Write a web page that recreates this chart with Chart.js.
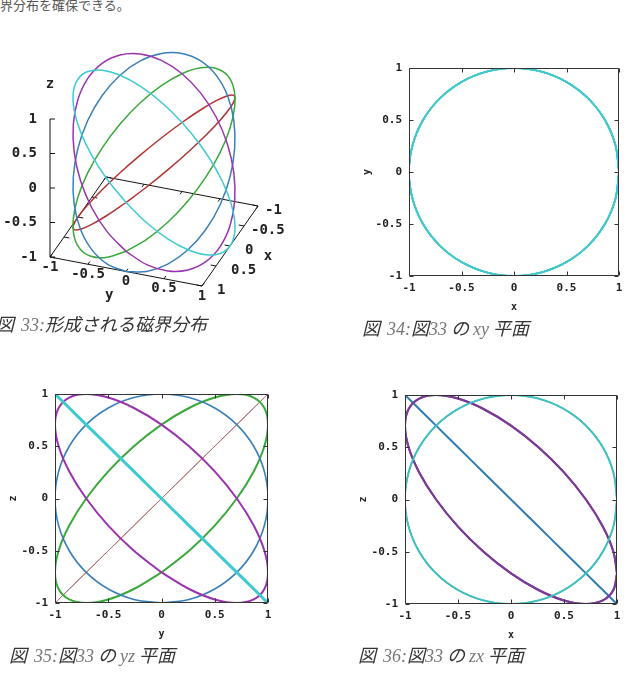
<!DOCTYPE html>
<html><head><meta charset="utf-8">
<script src="https://cdn.jsdelivr.net/npm/chart.js@4.4.1/dist/chart.umd.min.js"></script>
<style>
html,body{margin:0;padding:0;background:#fff;width:632px;height:690px;overflow:hidden;position:relative}
canvas{position:absolute}
.txt{position:absolute;white-space:nowrap;font-family:"Noto Sans CJK JP",sans-serif;color:#333}
.cap{font-size:18px;font-style:italic;line-height:20px;color:#333}
.num{font-family:"Liberation Serif",serif;color:#777;font-style:italic}
.gap{margin-left:7px}
</style></head><body>
<div class="txt" style="left:0;top:-2px;font-size:13px;line-height:13px;color:#555">界分布を確保できる。</div>
<canvas id="c3d" width="300" height="280" style="left:0;top:40px"></canvas>
<canvas id="cxy" width="277" height="266" style="left:355px;top:54px"></canvas>
<canvas id="cyz" width="280" height="267" style="left:1px;top:380px"></canvas>
<canvas id="czx" width="279" height="267" style="left:351px;top:381px"></canvas>
<div class="txt cap" style="left:-4px;top:313px">図<span class="num gap">33:</span>形成される磁界分布</div>
<div class="txt cap" style="left:362px;top:317px">図<span class="num gap">34:</span>図<span class="num">33</span> の <span class="num">xy</span> 平面</div>
<div class="txt cap" style="left:9px;top:644px">図<span class="num gap">35:</span>図<span class="num">33</span> の <span class="num">yz</span> 平面</div>
<div class="txt cap" style="left:358px;top:644px">図<span class="num gap">36:</span>図<span class="num">33</span> の <span class="num">zx</span> 平面</div>
<script>
const circleX = [1, 0.966, 0.866, 0.707, 0.5, 0.259, 0, -0.259, -0.5, -0.707, -0.866, -0.966, -1, -0.966, -0.866, -0.707, -0.5, -0.259, 0, 0.259, 0.5, 0.707, 0.866, 0.966];
const circleY = [0, 0.259, 0.5, 0.707, 0.866, 0.966, 1, 0.966, 0.866, 0.707, 0.5, 0.259, 0, -0.259, -0.5, -0.707, -0.866, -0.966, -1, -0.966, -0.866, -0.707, -0.5, -0.259];
const zBrown  = [0, 0.259, 0.5, 0.707, 0.866, 0.966, 1, 0.966, 0.866, 0.707, 0.5, 0.259, 0, -0.259, -0.5, -0.707, -0.866, -0.966, -1, -0.966, -0.866, -0.707, -0.5, -0.259];
const zGreen  = [-0.707, -0.5, -0.259, 0, 0.259, 0.5, 0.707, 0.866, 0.966, 1, 0.966, 0.866, 0.707, 0.5, 0.259, 0, -0.259, -0.5, -0.707, -0.866, -0.966, -1, -0.966, -0.866];
const zBlue   = [-1, -0.966, -0.866, -0.707, -0.5, -0.259, 0, 0.259, 0.5, 0.707, 0.866, 0.966, 1, 0.966, 0.866, 0.707, 0.5, 0.259, 0, -0.259, -0.5, -0.707, -0.866, -0.966];
const zPurple = [-0.707, -0.866, -0.966, -1, -0.966, -0.866, -0.707, -0.5, -0.259, 0, 0.259, 0.5, 0.707, 0.866, 0.966, 1, 0.966, 0.866, 0.707, 0.5, 0.259, 0, -0.259, -0.5];
const zCyan   = [0, -0.259, -0.5, -0.707, -0.866, -0.966, -1, -0.966, -0.866, -0.707, -0.5, -0.259, 0, 0.259, 0.5, 0.707, 0.866, 0.966, 1, 0.966, 0.866, 0.707, 0.5, 0.259];
const tickValues = [-1, -0.5, 0, 0.5, 1];
const tickLabels = ['-1', '-0.5', '0', '0.5', '1'];

// ---- styles ----
const curves = [
  {z: zCyan,   color: '#3ecad0', order: 0},
  {z: zPurple, color: '#9a32b0', order: 1},
  {z: zBlue,   color: '#3a7fb8', order: 2},
  {z: zGreen,  color: '#3aa83a', order: 3},
  {z: zBrown,  color: '#b03434', order: 4}
];
const MONO = '"DejaVu Sans Mono", "Liberation Mono", monospace';
const INK = '#222';
Chart.defaults.font.family = MONO;

function closed(a) { return a.concat([a[0]]); }

// ---- 3D panel ----
const view = {ox: 154, oy: 122.5, ex: [-28, 40], ey: [76, 14.5], ez: [0, -69]};
function project(x, y, z) {
  return {x: view.ox + view.ex[0]*x + view.ey[0]*y + view.ez[0]*z,
          y: view.oy + view.ex[1]*x + view.ey[1]*y + view.ez[1]*z};
}
const boxCorners = [[1,-1,-1],[1,1,-1],[-1,1,-1],[-1,-1,-1],[1,-1,-1]];
const zAxisEnds = [[1,-1,-1],[1,-1,1]];

const ds3d = curves.map(c => ({
  data: closed(circleX.map((x, i) => project(x, circleY[i], c.z[i]))),
  borderColor: c.color, borderWidth: 1.5, tension: 0.34, order: c.order,
  pointRadius: 0, showLine: true, fill: false, clip: false
}));
ds3d.push({data: boxCorners.map(p => project(...p)), borderColor: '#111', borderWidth: 1, tension: 0, order: 10, pointRadius: 0, showLine: true, clip: false});
ds3d.push({data: zAxisEnds.map(p => project(...p)), borderColor: '#111', borderWidth: 1, tension: 0, order: 11, pointRadius: 0, showLine: true, clip: false});

const axes3d = {
  id: 'axes3d',
  beforeDatasetsDraw(chart) {
    const {ctx, scales: {x: sx, y: sy}} = chart;
    const P = (x, y, z) => { const p = project(x, y, z); return [sx.getPixelForValue(p.x), sy.getPixelForValue(p.y)]; };
    ctx.save(); ctx.strokeStyle = '#111'; ctx.lineWidth = 1; ctx.beginPath();
    const L = 0.07;
    tickValues.forEach(v => {
      let a = P(1, -1, v); ctx.moveTo(a[0], a[1]); ctx.lineTo(a[0] + 5, a[1]);
      a = P(1, v, -1); let b = P(1 - L, v, -1); ctx.moveTo(a[0], a[1]); ctx.lineTo(b[0], b[1]);
      a = P(-1, v, -1); b = P(-1 + L, v, -1); ctx.moveTo(a[0], a[1]); ctx.lineTo(b[0], b[1]);
      a = P(v, 1, -1); b = P(v, 1 - L, -1); ctx.moveTo(a[0], a[1]); ctx.lineTo(b[0], b[1]);
      a = P(v, -1, -1); b = P(v, -1 + L, -1); ctx.moveTo(a[0], a[1]); ctx.lineTo(b[0], b[1]);
    });
    ctx.stroke(); ctx.restore();
  },
  afterDraw(chart) {
    const {ctx, scales: {x: sx, y: sy}} = chart;
    const P = (x, y, z) => { const p = project(x, y, z); return [sx.getPixelForValue(p.x), sy.getPixelForValue(p.y)]; };
    ctx.save(); ctx.fillStyle = INK; ctx.font = 'bold 14px ' + MONO; ctx.textBaseline = 'middle';
    tickValues.forEach((v, i) => {
      const lab = tickLabels[i];
      let a = P(1, -1, v); ctx.textAlign = 'right'; ctx.fillText(lab, a[0] - 13, a[1]);
      a = P(1, v, -1); ctx.textAlign = 'center'; ctx.fillText(lab, a[0], a[1] + 10);
      a = P(v, 1, -1); ctx.textAlign = 'left'; ctx.fillText(lab, a[0] + (lab[0] === '-' ? 7 : 15), a[1] + 4);
    });
    ctx.textAlign = 'center';
    let a = P(1, -1, 1.5); ctx.fillText('z', a[0], a[1]);
    a = P(1.6, 0, -1); ctx.fillText('y', a[0], a[1]);
    a = P(0, 1.5, -1); ctx.fillText('x', a[0], a[1] + 3);
    ctx.restore();
  }
};

new Chart(document.getElementById('c3d'), {
  type: 'scatter',
  data: {datasets: ds3d},
  options: {
    responsive: false, animation: false, devicePixelRatio: 1, events: [],
    layout: {padding: 0, autoPadding: false},
    plugins: {legend: {display: false}, tooltip: {enabled: false}},
    scales: {
      x: {type: 'linear', min: 0, max: 300, display: false},
      y: {type: 'linear', min: 0, max: 280, reverse: true, display: false}
    }
  },
  plugins: [axes3d]
});

// ---- 2D panels ----
const frame = {
  id: 'frame',
  afterDatasetsDraw(chart) {
    const {ctx, chartArea: a, scales: {x, y}} = chart;
    ctx.save(); ctx.strokeStyle = '#333'; ctx.lineWidth = 1; ctx.beginPath();
    const l = Math.round(a.left) + 0.5, r = Math.round(a.right) - 0.5, t = Math.round(a.top) + 0.5, b = Math.round(a.bottom) - 0.5;
    ctx.rect(l, t, r - l, b - t);
    tickValues.forEach(v => {
      const px = Math.round(x.getPixelForValue(v)) + 0.5;
      ctx.moveTo(px, b); ctx.lineTo(px, b - 4); ctx.moveTo(px, t); ctx.lineTo(px, t + 4);
      const py = Math.round(y.getPixelForValue(v)) + 0.5;
      ctx.moveTo(l, py); ctx.lineTo(l + 4, py); ctx.moveTo(r, py); ctx.lineTo(r - 4, py);
    });
    ctx.stroke(); ctx.restore();
  }
};

function axis(title, isX) {
  return {
    type: 'linear', min: -1, max: 1,
    grid: {display: false, drawTicks: false}, border: {display: false},
    afterBuildTicks: s => { s.ticks = tickValues.map(v => ({value: v})); },
    afterFit: s => { if (isX) s.height = 44; else s.width = 54; },
    ticks: {color: INK, font: {size: 11, weight: 'bold', family: MONO}, padding: isX ? 6 : 7,
            callback: (v) => tickLabels[tickValues.indexOf(v)]},
    title: {display: true, text: title, color: INK, font: {size: 10, weight: 'bold', family: MONO},
            padding: isX ? {top: 0, bottom: 7} : {top: 6, bottom: 0}}
  };
}

function panel(id, xArr, yFn, xTitle, yTitle, widths, colors) {
  const datasets = curves.map((c, k) => ({
    data: closed(xArr.map((v, i) => ({x: v, y: yFn(c)[i]}))),
    borderColor: (colors && colors[k]) || c.color, borderWidth: widths[k], tension: 0.34,
    order: c.order, pointRadius: 0, showLine: true, fill: false
  }));
  new Chart(document.getElementById(id), {
    type: 'scatter',
    data: {datasets},
    options: {
      responsive: false, animation: false, devicePixelRatio: 1, events: [],
      layout: {padding: {left: 0, top: 14, right: 13, bottom: 0}, autoPadding: false},
      plugins: {legend: {display: false}, tooltip: {enabled: false}},
      scales: {x: axis(xTitle, true), y: axis(yTitle, false)}
    },
    plugins: [frame]
  });
}

// widths/colours in order: cyan, purple, blue, green, brown
const XY_CYAN = '#44c8ca';
panel('cxy', circleX, c => circleY, 'x', 'y', [1.8, 1.6, 1.6, 1.6, 1.6], [XY_CYAN, XY_CYAN, XY_CYAN, XY_CYAN, XY_CYAN]);
panel('cyz', circleY, c => c.z, 'y', 'z', [3, 2, 1.6, 2, 1], [null, null, null, null, '#b07070']);
panel('czx', circleX, c => c.z, 'x', 'z', [1.8, 2, 2, 2, 1.6], ['#40bfbd', '#7a3a96', '#2f7db5', '#7a3a96', '#40bfbd']);
</script>
</body></html>
